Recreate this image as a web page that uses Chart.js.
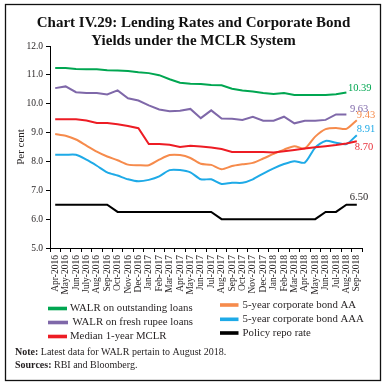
<!DOCTYPE html>
<html>
<head>
<meta charset="utf-8">
<script src="https://cdn.jsdelivr.net/npm/chart.js@4.4.0/dist/chart.umd.min.js"></script>
<style>
  html, body { margin: 0; padding: 0; background: #fff; }
</style>
</head>
<body>
<canvas id="chart" width="386" height="386"></canvas>
<script>
const months = ['Apr-2016', 'May-2016', 'Jun-2016', 'July-2016', 'Aug-2016', 'Sep-2016', 'Oct-2016', 'Nov-2016',
  'Dec-2016', 'Jan-2017', 'Feb-2017', 'Mar-2017', 'Apr-2017', 'May-2017', 'Jun-2017', 'Jul-2017', 'Aug-2017',
  'Sep-2017', 'Oct-2017', 'Nov-2017', 'Dec-2017', 'Jan-2018', 'Feb-2018', 'Mar-2018', 'Apr-2018', 'May-2018',
  'Jun-2018', 'Jul-2018', 'Aug-2018', 'Sep-2018'];

// WALR series stop at Aug-2018
const walrOutstanding = [11.24, 11.24, 11.20, 11.19, 11.19, 11.16, 11.15, 11.13, 11.09, 11.06, 10.99, 10.85, 10.73,
  10.69, 10.68, 10.65, 10.64, 10.52, 10.46, 10.42, 10.37, 10.34, 10.37, 10.30, 10.30, 10.30, 10.30, 10.33, 10.39];
const walrFresh = [10.54, 10.60, 10.40, 10.37, 10.37, 10.32, 10.46, 10.19, 10.11, 9.94, 9.80, 9.74, 9.76, 9.82,
  9.50, 9.77, 9.49, 9.48, 9.44, 9.55, 9.41, 9.41, 9.55, 9.32, 9.41, 9.41, 9.44, 9.63, 9.63];
const medianMclr = [9.46, 9.46, 9.46, 9.42, 9.33, 9.33, 9.29, 9.23, 9.15, 8.60, 8.60, 8.58, 8.50, 8.54, 8.52, 8.48,
  8.43, 8.33, 8.33, 8.33, 8.33, 8.31, 8.35, 8.40, 8.45, 8.49, 8.53, 8.57, 8.62, 8.70];
const bondAA = [8.95, 8.89, 8.76, 8.55, 8.34, 8.17, 8.04, 7.89, 7.87, 7.87, 8.06, 8.22, 8.22, 8.12, 7.92, 7.88,
  7.73, 7.84, 7.90, 7.95, 8.10, 8.26, 8.41, 8.53, 8.45, 8.86, 9.12, 9.16, 9.13, 9.43];
const bondAAA = [8.23, 8.23, 8.23, 8.06, 7.85, 7.62, 7.51, 7.38, 7.31, 7.36, 7.48, 7.70, 7.70, 7.62, 7.38, 7.38,
  7.22, 7.26, 7.26, 7.38, 7.58, 7.76, 7.91, 8.01, 7.96, 8.48, 8.71, 8.65, 8.60, 8.91];
const repoRate = [6.50, 6.50, 6.50, 6.50, 6.50, 6.50, 6.25, 6.25, 6.25, 6.25, 6.25, 6.25, 6.25, 6.25, 6.25, 6.25,
  6.00, 6.00, 6.00, 6.00, 6.00, 6.00, 6.00, 6.00, 6.00, 6.00, 6.25, 6.25, 6.50, 6.50];

const yMin = 5, yMax = 12, yStep = 1;

const serif = "'Liberation Serif', 'DejaVu Serif', serif";

// legend slots: left column then right column
const legendSlots = [
  { x: 48, y: 308.5, w: 19, tx: 70 },
  { x: 48, y: 322.5, w: 20, tx: 72.5 },
  { x: 48, y: 336.5, w: 19, tx: 70 },
  { x: 220, y: 305, w: 18.5, tx: 242.5 },
  { x: 220, y: 319.3, w: 18.5, tx: 242.5 },
  { x: 220, y: 333, w: 18.5, tx: 242.5 }
];

const extras = {
  id: 'extras',
  afterDatasetsDraw(chart) {
    const ctx = chart.ctx;
    ctx.save();
    ctx.font = '10.5px ' + serif;
    ctx.textBaseline = 'middle';
    ctx.textAlign = 'left';
    chart.data.datasets.forEach((ds, i) => {
      const meta = chart.getDatasetMeta(i);
      const last = ds.data.length - 1;
      const pt = meta.data[last];
      ctx.fillStyle = ds.labelColor;
      ctx.fillText(ds.data[last].toFixed(2), pt.x + ds.labelDx, pt.y + ds.labelDy);
    });
    ctx.restore();
  },
  afterDraw(chart) {
    const ctx = chart.ctx;
    ctx.save();

    // frame
    ctx.strokeStyle = '#111';
    ctx.lineWidth = 1.3;
    ctx.strokeRect(5.5, 4.5, 375, 376);

    // title
    ctx.fillStyle = '#111';
    ctx.font = 'bold 15px ' + serif;
    ctx.textAlign = 'center';
    ctx.textBaseline = 'middle';
    ctx.fillText('Chart IV.29: Lending Rates and Corporate Bond', 193.5, 23);
    ctx.fillText('Yields under the MCLR System', 193.5, 41);

    // legend
    ctx.textAlign = 'left';
    ctx.font = '10.8px ' + serif;
    chart.data.datasets.forEach((ds, i) => {
      const s = legendSlots[i];
      ctx.fillStyle = ds.borderColor;
      ctx.fillRect(s.x, s.y - 1.8, s.w, 3.6);
      ctx.fillStyle = '#231f20';
      ctx.fillText(ds.label, s.tx, s.y);
    });

    // note and sources
    ctx.font = 'bold 10px ' + serif;
    ctx.fillText('Note:', 15, 352.7);
    let w = ctx.measureText('Note:').width;
    ctx.font = '10px ' + serif;
    ctx.fillText(' Latest data for WALR pertain to August 2018.', 15 + w, 352.7);
    ctx.font = 'bold 10px ' + serif;
    ctx.fillText('Sources:', 15, 365);
    w = ctx.measureText('Sources:').width;
    ctx.font = '10px ' + serif;
    ctx.fillText(' RBI and Bloomberg.', 15 + w, 365);

    ctx.restore();
  }
};

function line(label, data, color, labelColor, dx, dy, tension) {
  return {
    label, data,
    borderColor: color,
    backgroundColor: color,
    borderWidth: 2,
    pointRadius: 0,
    tension: tension,
    fill: false,
    labelColor, labelDx: dx, labelDy: dy
  };
}

new Chart(document.getElementById('chart'), {
  type: 'line',
  data: {
    labels: months,
    datasets: [
      line('WALR on outstanding loans', walrOutstanding, '#00a651', '#00a651', 1.5, -4.5, 0),
      line('WALR on fresh rupee loans', walrFresh, '#7f68a9', '#7f68a9', 3.5, -5.5, 0),
      line('Median 1-year MCLR', medianMclr, '#ed1c24', '#e8303a', -2, 6, 0),
      line('5-year corporate bond AA', bondAA, '#f68b4c', '#f68b4c', 0, -4.5, 0.25),
      line('5-year corporate bond AAA', bondAAA, '#1eaae7', '#1eaae7', 0, -5.5, 0.25),
      line('Policy repo rate', repoRate, '#000000', '#231f20', -7, -7, 0)
    ]
  },
  options: {
    responsive: false,
    animation: false,
    layout: { padding: { top: 46, right: 24, bottom: 86, left: 0 } },
    plugins: {
      legend: { display: false },
      tooltip: { enabled: false }
    },
    scales: {
      x: {
        offset: true,
        afterFit: s => { s.height = 52; },
        border: { color: '#000', width: 1 },
        grid: { drawOnChartArea: false, drawTicks: true, tickLength: 4, color: '#000', offset: true },
        ticks: {
          autoSkip: false, maxRotation: 90, minRotation: 90, padding: 3,
          color: '#231f20', font: { family: serif, size: 9.5 }
        }
      },
      y: {
        min: yMin, max: yMax,
        afterFit: s => { s.width = 50; },
        border: { color: '#000', width: 1 },
        grid: { drawOnChartArea: false, drawTicks: true, tickLength: 4, color: '#000' },
        ticks: {
          stepSize: yStep, padding: 3,
          color: '#231f20', font: { family: serif, size: 9.5 },
          callback: v => v.toFixed(1)
        },
        title: {
          display: true, text: 'Per cent', color: '#231f20',
          font: { family: serif, size: 11 }, padding: { top: 15, bottom: 0 }
        }
      }
    }
  },
  plugins: [extras]
});
</script>
</body>
</html>
